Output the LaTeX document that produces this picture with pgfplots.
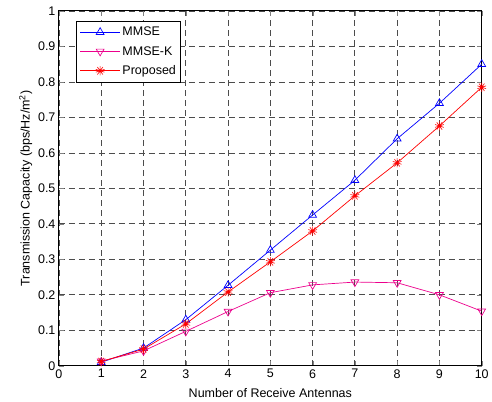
\documentclass[border=0pt]{standalone}
\usepackage{fontspec}
\setmainfont{Liberation Sans}
\usepackage{pgfplots}
\pgfplotsset{compat=1.18}
\usetikzlibrary{plotmarks}

\begin{document}
\begin{tikzpicture}
\begin{axis}[
  scale only axis,
  width=423pt, height=355pt,
  xmin=0, xmax=10, ymin=0, ymax=1,
  xtick={0,1,...,10},
  ytick={0,0.1,...,1},
  yticklabel style={/pgf/number format/fixed},
  /pgf/number format/assume math mode=true,
  tick label style={font=\fontsize{12.5}{14}\selectfont},
  label style={font=\fontsize{12.5}{14}\selectfont},
  xlabel={Number of Receive Antennas},
  ylabel={Transmission Capacity (bps/Hz/m\textsuperscript{2})},
  xlabel style={yshift=-3pt},
  ylabel style={yshift=-1pt},
  tick align=inside, tick pos=both,
  major tick length=5pt,
  axis line style={line width=1pt},
  grid=major,
  grid style={black!70, dash pattern=on 6pt off 4pt, line width=0.8pt},
  legend cell align=left,
  legend style={at={(0.041,0.973)}, anchor=north west,
    font=\fontsize{12.5}{14}\selectfont, line width=1pt,
    row sep=5pt, inner xsep=3pt, inner ysep=4pt},
  legend image code/.code={
    \draw[mark repeat=2,mark phase=2] plot coordinates {(0pt,0pt) (20pt,0pt) (40pt,0pt)};}
]
\addplot[blue, line width=0.7pt, mark=triangle, mark size=4.5pt,
  mark options={solid, line width=0.7pt}]
  coordinates{(1,0.01)(2,0.05)(3,0.13)(4,0.227)(5,0.326)(6,0.425)
              (7,0.523)(8,0.64)(9,0.74)(10,0.85)};
\addlegendentry{MMSE}
\addplot[magenta, line width=0.7pt, mark=triangle, mark size=4.5pt,
  mark options={solid, line width=0.7pt, rotate=180}]
  coordinates{(1,0.013)(2,0.042)(3,0.097)(4,0.153)(5,0.206)(6,0.228)
              (7,0.236)(8,0.234)(9,0.2)(10,0.154)};
\addlegendentry{MMSE-K}
\addplot[red, line width=0.7pt, mark=10-pointed star, mark size=4.6pt,
  mark options={solid, line width=0.6pt, fill=white}]
  coordinates{(1,0.012)(2,0.047)(3,0.118)(4,0.208)(5,0.293)(6,0.38)
              (7,0.479)(8,0.572)(9,0.676)(10,0.785)};
\addlegendentry{Proposed}
\end{axis}
\useasboundingbox (-59pt,-36pt) rectangle (433pt,366pt);
\end{tikzpicture}
\end{document}
